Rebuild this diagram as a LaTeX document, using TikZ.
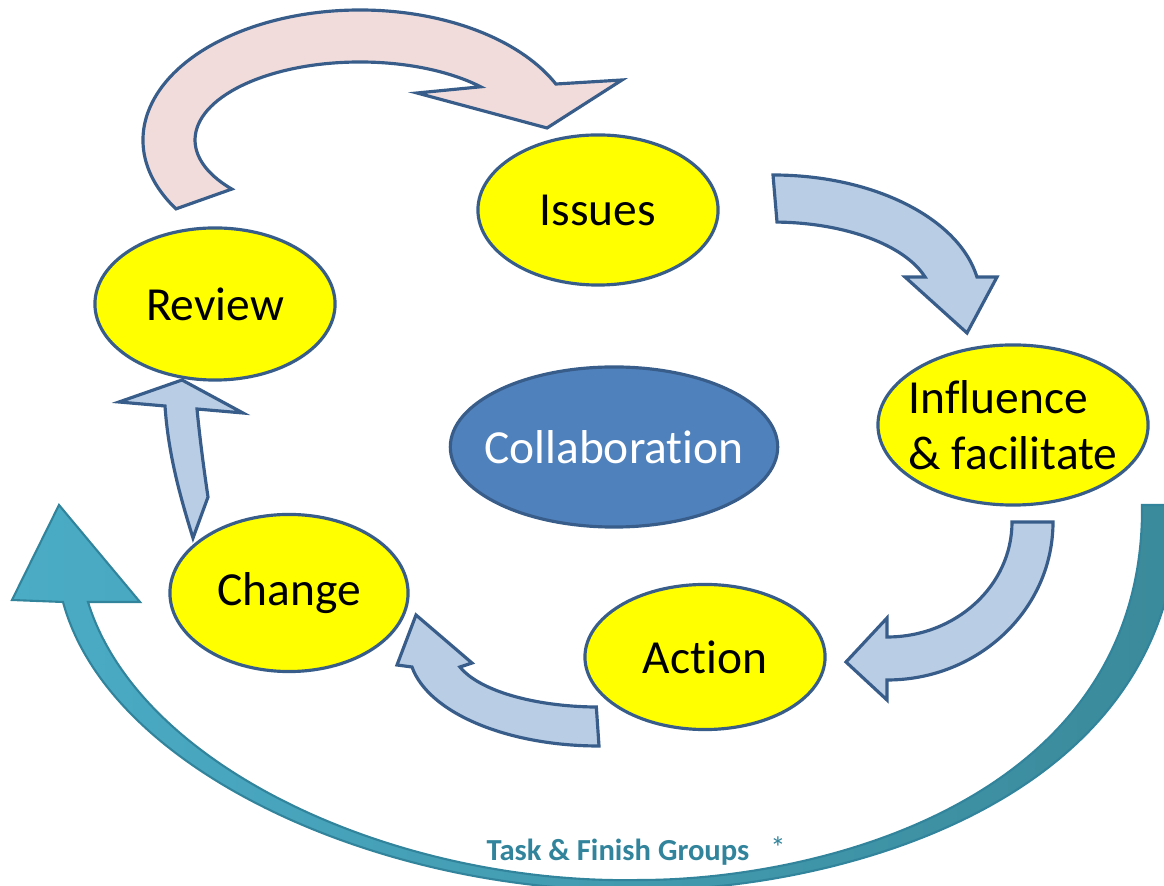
\documentclass[tikz,border=0pt]{standalone}
\usepackage{fontspec}
\setmainfont[Ligatures=NoCommon]{Carlito}
\usepackage{xcolor}
\usetikzlibrary{shapes.geometric}
\definecolor{stageyellow}{HTML}{FFFF00}
\definecolor{rim}{HTML}{385D8A}
\definecolor{flowblue}{HTML}{B9CDE5}
\definecolor{looppink}{HTML}{F2DCDB}
\definecolor{hubblue}{HTML}{4F81BD}
\definecolor{tealL}{HTML}{4BACC6}
\definecolor{tealD}{HTML}{3A8A9A}
\definecolor{tealE}{HTML}{31849B}

\begin{document}
\begin{tikzpicture}[x=0.01cm, y=-0.01cm,
  every node/.style={font=\fontsize{13.5}{15.9}\selectfont},
  stage/.style={ellipse, draw=rim, line width=0.9pt, fill=stageyellow, inner sep=0pt,
    minimum width=2.4cm, minimum height=1.5cm},
  hub/.style={stage, fill=hubblue, text=white, inner xsep=-1.4mm,
    minimum width=3.23cm, minimum height=1.6cm},
  flow/.style={draw=rim, line width=0.9pt, fill=flowblue, line join=miter},
  backflow/.style={flow, fill=looppink},
  outerloop/.style={draw=tealE, line width=0.6pt, left color=tealL,
    middle color=tealL!55!tealD, right color=tealD},
  note/.style={font=\fontsize{8.7}{10}\selectfont, text=tealE}]
  \useasboundingbox (0,0) rectangle (1164,886);

  \path[outerloop] (63,602) -- (12,600) -- (59,505) -- (140,602) -- (88,602)
    .. controls (140,770) and (400,885) .. (640,880)
    .. controls (820,880) and (1145,800) .. (1142,505)
    -- (1178,505)
    .. controls (1180,810) and (820,892) .. (640,890)
    .. controls (390,895) and (110,775) .. (63,602)
    -- cycle;

  \path[backflow] (360,140) ++(148:217 and 130)
    arc[start angle=148, end angle=334.5, x radius=217, y radius=130]
    -- (622,80) -- (547,128) -- (417,93) -- (480.7,86.8)
    arc[start angle=317, end angle=141, x radius=165, y radius=78] -- cycle;
  \path[flow] (773,175) arc[start angle=270, end angle=349.4, x radius=207.5, y radius=125]
    -- (997,277) -- (967,333) -- (905,277) -- (925,277)
    arc[start angle=342.8, end angle=271.4, x radius=159, y radius=78] -- cycle;
  \path[flow] (1053,522) arc[start angle=0, end angle=90, x radius=166, y radius=158]
    -- (887,700) -- (846,662) -- (887,618) -- (887,637)
    arc[start angle=90, end angle=0, x radius=125, y radius=115] -- cycle;
  \path[flow] (599,746) arc[start angle=90, end angle=169.8, x radius=190, y radius=96]
    -- (397,665) -- (416,615) -- (472,663) -- (460,667)
    arc[start angle=162.7, end angle=91.2, x radius=146, y radius=57] -- cycle;
  \path[flow] (182,380) -- (243,413) -- (197,409) .. controls (200,440) and (204,470) .. (208,497)
    -- (193,538) .. controls (178,490) and (168,450) .. (165,406) -- (119,402) -- cycle;

  \node[stage] (issues) at (598,210) {Issues};
  \node[stage, minimum height=1.52cm] (review) at (215,304) {Review};
  \node[stage, minimum width=2.7cm, minimum height=1.6cm, inner xsep=-1mm, align=left]
    (influence) at (1013,425) {Influence\\\& facilitate};
  \node[stage, minimum height=1.45cm] (action) at (705,657) {Action};
  \node[stage, minimum width=2.38cm, minimum height=1.57cm] (change) at (289,593) {Change};
  \node[hub] (collab) at (614,447) {Collaboration};

  \node[note, font=\fontsize{8.7}{10}\selectfont\bfseries] (tfg) at (618,852) {Task \& Finish Groups};
  \node[note] (star) at (778,848) {*};
\end{tikzpicture}
\end{document}
